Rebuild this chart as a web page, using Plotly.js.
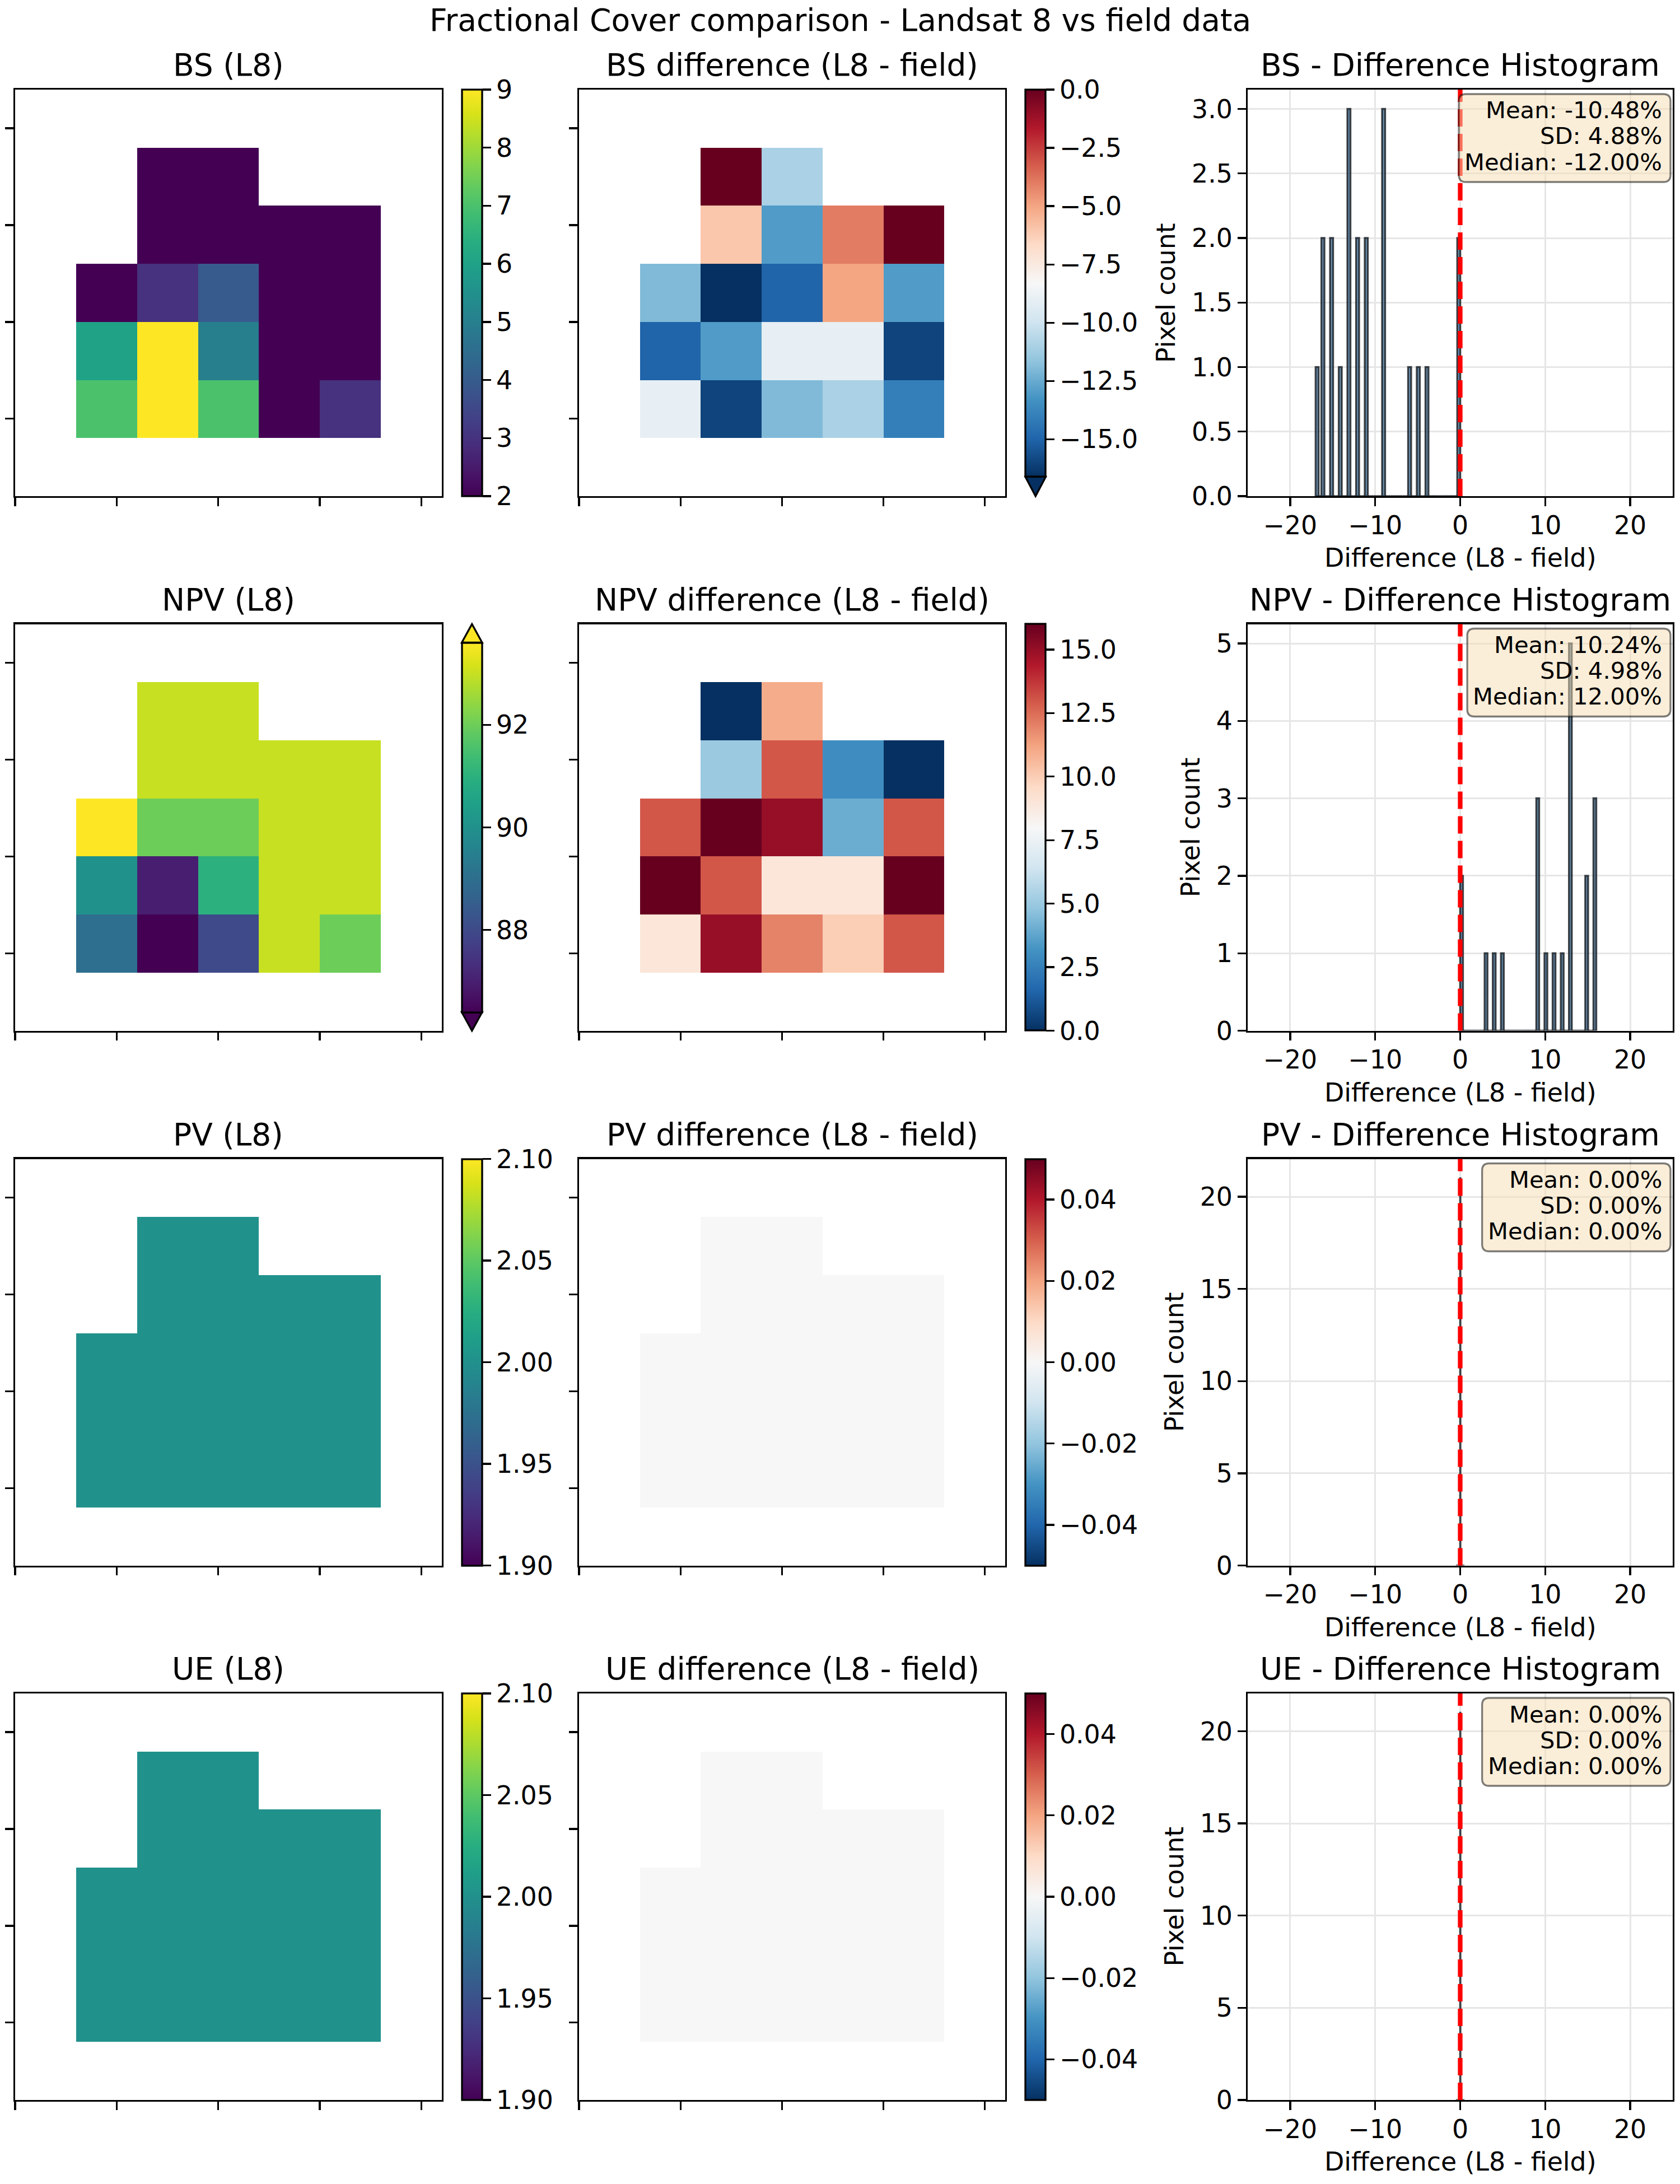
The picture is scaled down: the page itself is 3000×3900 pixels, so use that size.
<!DOCTYPE html>
<html>
<head>
<meta charset="utf-8">
<script src="https://cdn.plot.ly/plotly-3.0.1.min.js"></script>
<style>html,body{margin:0;padding:0;background:#fff}</style>
</head>
<body>
<div id="chart" style="width:3000px;height:3900px"></div>
<script>
// ---------------- DATA ----------------
const N = null;
const components = ['BS', 'NPV', 'PV', 'UE'];
const grid_x = [0, 1, 2, 3, 4, 5, 6];
const grid_y = [0, 1, 2, 3, 4, 5, 6];

const bs_l8 = [
  [N, N, N, N, N, N, N],
  [N, N, 2, 2, N, N, N],
  [N, N, 2, 2, 2, 2, N],
  [N, 2, 3, 4, 2, 2, N],
  [N, 6, 9, 5, 2, 2, N],
  [N, 7, 9, 7, 2, 3, N],
  [N, N, N, N, N, N, N]
];
const bs_diff = [
  [N, N, N, N, N, N, N],
  [N, N, 0, -11, N, N, N],
  [N, N, -6, -13, -4, 0, N],
  [N, -12, -17, -15, -5, -13, N],
  [N, -15, -13, -9, -9, -16, N],
  [N, -9, -16, -12, -11, -14, N],
  [N, N, N, N, N, N, N]
];
const npv_l8 = [
  [N, N, N, N, N, N, N],
  [N, N, 93, 93, N, N, N],
  [N, N, 93, 93, 93, 93, N],
  [N, 94, 92, 92, 93, 93, N],
  [N, 90, 87, 91, 93, 93, N],
  [N, 89, 86, 88, 93, 92, N],
  [N, N, N, N, N, N, N]
];
const npv_diff = [
  [N, N, N, N, N, N, N],
  [N, N, 0, 11, N, N, N],
  [N, N, 5, 13, 3, 0, N],
  [N, 13, 16, 15, 4, 13, N],
  [N, 16, 13, 9, 9, 16, N],
  [N, 9, 15, 12, 10, 13, N],
  [N, N, N, N, N, N, N]
];
const pv_l8 = [
  [N, N, N, N, N, N, N],
  [N, N, 2, 2, N, N, N],
  [N, N, 2, 2, 2, 2, N],
  [N, 2, 2, 2, 2, 2, N],
  [N, 2, 2, 2, 2, 2, N],
  [N, 2, 2, 2, 2, 2, N],
  [N, N, N, N, N, N, N]
];
const pv_diff = [
  [N, N, N, N, N, N, N],
  [N, N, 0, 0, N, N, N],
  [N, N, 0, 0, 0, 0, N],
  [N, 0, 0, 0, 0, 0, N],
  [N, 0, 0, 0, 0, 0, N],
  [N, 0, 0, 0, 0, 0, N],
  [N, N, N, N, N, N, N]
];
const ue_l8 = [
  [N, N, N, N, N, N, N],
  [N, N, 2, 2, N, N, N],
  [N, N, 2, 2, 2, 2, N],
  [N, 2, 2, 2, 2, 2, N],
  [N, 2, 2, 2, 2, 2, N],
  [N, 2, 2, 2, 2, 2, N],
  [N, N, N, N, N, N, N]
];
const ue_diff = [
  [N, N, N, N, N, N, N],
  [N, N, 0, 0, N, N, N],
  [N, N, 0, 0, 0, 0, N],
  [N, 0, 0, 0, 0, 0, N],
  [N, 0, 0, 0, 0, 0, N],
  [N, 0, 0, 0, 0, 0, N],
  [N, N, N, N, N, N, N]
];
const l8_grids = [bs_l8, npv_l8, pv_l8, ue_l8];
const diff_grids = [bs_diff, npv_diff, pv_diff, ue_diff];

// tick labels / tick steps
const hist_xticks = [-20, -10, 0, 10, 20];
const hist_ystep = [0.5, 1, 5, 5];
const cb_l8_ticks = [[2, 3, 4, 5, 6, 7, 8, 9], [88, 90, 92], [1.90, 1.95, 2.00, 2.05, 2.10], [1.90, 1.95, 2.00, 2.05, 2.10]];
const cb_l8_fmt = ['d', 'd', '.2f', '.2f'];
const cb_diff_ticks = [[0, -2.5, -5, -7.5, -10, -12.5, -15], [0, 2.5, 5, 7.5, 10, 12.5, 15], [-0.04, -0.02, 0, 0.02, 0.04], [-0.04, -0.02, 0, 0.02, 0.04]];
const cb_diff_fmt = ['.1f', '.1f', '.2f', '.2f'];
const hist_bins = 50;

// ---------------- LAYOUT GEOMETRY (pixels) ----------------
const W = 3000, HF = 3900;
const fx = p => p / W;
const fy = p => 1 - p / HF;
const rowTop = [160, 1114.5, 2069.5, 3024];
const axH = 726;
const colL = [27, 1034, 2228], colR = [788.5, 1795, 2987];
const cbL = [824.6, 1831], cbW = 36.4;
const FONT = '"DejaVu Sans", Verdana, sans-serif';
const TICK = 45.8, TITLE = 55, LABEL = 45.8, STAT = 41.7;
const LW = 3.3, TL = 14.6;

const viridis_lo = '#440154', viridis_hi = '#fde725';
const rdbu_cols = ['#053061', '#2166ac', '#4393c3', '#92c5de', '#d1e5f0', '#f7f7f7', '#fddbc7', '#f4a582', '#d6604d', '#b2182b', '#67001f'];
const rdbu_r = rdbu_cols.map((c, i) => [i / 10, c]);

// ---------------- HELPERS ----------------
const flat = g => g.flat().filter(v => v !== null);
function pct(arr, p) {
  const s = arr.slice().sort((a, b) => a - b);
  const idx = (s.length - 1) * p / 100;
  const lo = Math.floor(idx), hi = Math.ceil(idx);
  return s[lo] + (s[hi] - s[lo]) * (idx - lo);
}
function histogram(vals, nb) {
  let mn = Math.min(...vals), mx = Math.max(...vals);
  if (mn === mx) { mn -= 0.5; mx += 0.5; }
  const w = (mx - mn) / nb;
  const counts = new Array(nb).fill(0);
  vals.forEach(v => {
    let i = Math.floor((v - mn) / w);
    if (i >= nb) i = nb - 1;
    if (i < 0) i = 0;
    counts[i]++;
  });
  const centers = counts.map((_, i) => mn + (i + 0.5) * w);
  return { centers, counts, w };
}
const mean = a => a.reduce((s, v) => s + v, 0) / a.length;
const std = a => { const m = mean(a); return Math.sqrt(a.reduce((s, v) => s + (v - m) * (v - m), 0) / a.length); };
const median = a => pct(a, 50);
const fmt2 = v => { const s = v.toFixed(2); return s === '-0.00' ? '0.00' : s; };

const canvas = document.createElement('canvas');
const ctx = canvas.getContext('2d');
function textW(s, size) { ctx.font = size + 'px "DejaVu Sans"'; return ctx.measureText(s).width; }

function P(x, y) { return fx(x).toFixed(6) + ',' + fy(y).toFixed(6); }
function roundRect(l, t, r, b, rad) {
  return `M ${P(l + rad, t)} L ${P(r - rad, t)} Q ${P(r, t)} ${P(r, t + rad)} L ${P(r, b - rad)} Q ${P(r, b)} ${P(r - rad, b)} L ${P(l + rad, b)} Q ${P(l, b)} ${P(l, b - rad)} L ${P(l, t + rad)} Q ${P(l, t)} ${P(l + rad, t)} Z`;
}

const traces = [];
const layout = {
  width: W, height: HF,
  margin: { l: 0, r: 0, t: 0, b: 0, pad: 0 },
  paper_bgcolor: '#fff', plot_bgcolor: '#fff',
  showlegend: false,
  font: { family: FONT, color: '#000', size: TICK },
  annotations: [], shapes: []
};

function heatAxes(k, col, r) {
  const id = k === 1 ? '' : String(k);
  layout['xaxis' + id] = {
    domain: [fx(colL[col]), fx(colR[col])], range: [-0.5, 6.5], anchor: 'y' + id,
    showgrid: false, zeroline: false, showline: true, linecolor: '#000', linewidth: LW, mirror: true,
    ticks: 'outside', ticklen: TL, tickwidth: LW, tickcolor: '#000',
    tickvals: [-0.5, 7 / 6, 17 / 6, 4.5, 37 / 6], showticklabels: false, fixedrange: true
  };
  layout['yaxis' + id] = {
    domain: [fy(rowTop[r] + axH), fy(rowTop[r])], range: [6.5, -0.5], anchor: 'x' + id,
    showgrid: false, zeroline: false, showline: true, linecolor: '#000', linewidth: LW, mirror: true,
    ticks: 'outside', ticklen: TL, tickwidth: LW, tickcolor: '#000',
    tickvals: [1 / 6, 11 / 6, 3.5, 31 / 6], showticklabels: false, fixedrange: true
  };
  return id;
}

function addHeat(r, col, grid, cscale, lo, hi, tickvals, tfmt) {
  const k = r * 3 + col + 1;
  const id = heatAxes(k, col, r);
  const vals = flat(grid);
  let vmin = pct(vals, 2), vmax = pct(vals, 98);
  if (vmin === vmax) {
    const e = col === 0 ? 0.1 : 0.05;
    vmin -= e; vmax += e;
  }
  const extLo = Math.min(...vals) < vmin, extHi = Math.max(...vals) > vmax;
  const nExt = (extLo ? 1 : 0) + (extHi ? 1 : 0);
  const body = axH / (1 + 0.05 * nExt);
  const ext = body * 0.05;
  const top = rowTop[r] + (extHi ? ext : 0);
  const bottom = top + body;
  traces.push({
    type: 'heatmap', z: grid, x: grid_x, y: grid_y,
    xaxis: 'x' + id, yaxis: 'y' + id,
    colorscale: cscale, zmin: vmin, zmax: vmax, zauto: false, zsmooth: false,
    hoverinfo: 'skip', showscale: true,
    colorbar: {
      x: fx(cbL[col]), xanchor: 'left', xref: 'paper',
      y: fy(top), yanchor: 'top', yref: 'paper',
      len: body, lenmode: 'pixels', thickness: cbW, thicknessmode: 'pixels',
      xpad: 0, ypad: 0, outlinewidth: LW, outlinecolor: '#000',
      ticks: 'outside', ticklen: TL, tickwidth: LW, tickcolor: '#000',
      tickvals: tickvals, tickformat: tfmt,
      tickfont: { family: FONT, size: TICK, color: '#000' }
    }
  });
  const l = cbL[col], rr = cbL[col] + cbW, c = l + cbW / 2;
  if (extLo) {
    layout.shapes.push({
      type: 'path', xref: 'paper', yref: 'paper', layer: 'above',
      path: `M ${P(l, bottom)} L ${P(c, bottom + ext)} L ${P(rr, bottom)} Z`,
      fillcolor: lo, line: { color: '#000', width: LW }
    });
  }
  if (extHi) {
    layout.shapes.push({
      type: 'path', xref: 'paper', yref: 'paper', layer: 'above',
      path: `M ${P(l, top)} L ${P(c, top - ext)} L ${P(rr, top)} Z`,
      fillcolor: hi, line: { color: '#000', width: LW }
    });
  }
}

function addTitle(text, col, r) {
  layout.annotations.push({
    text: text, xref: 'paper', yref: 'paper',
    x: fx((colL[col] + colR[col]) / 2), y: fy(rowTop[r] - 44),
    xanchor: 'center', yanchor: 'middle', showarrow: false,
    font: { family: FONT, size: TITLE, color: '#000' }
  });
}

function addHist(r, comp, diffGrid) {
  const k = r * 3 + 3;
  const id = String(k);
  const vals = flat(diffGrid);
  const h = histogram(vals, hist_bins);
  const ymax = Math.max(...h.counts) * 1.05;
  const step = hist_ystep[r];
  const yt = [];
  for (let v = 0; v <= ymax + 1e-9; v += step) yt.push(+v.toFixed(3));
  const ytxt = yt.map(v => step < 1 ? v.toFixed(1) : String(v));
  traces.push({
    type: 'bar', x: h.centers, y: h.counts, width: h.w,
    xaxis: 'x' + id, yaxis: 'y' + id, hoverinfo: 'skip',
    marker: { color: 'rgba(70,130,180,0.7)', line: { color: 'rgba(20,25,30,0.8)', width: 3.6 } }
  });
  layout['xaxis' + id] = {
    domain: [fx(colL[2]), fx(colR[2])], range: [-25, 25], anchor: 'y' + id,
    showgrid: true, gridcolor: '#e6e6e6', gridwidth: 3, zeroline: false,
    showline: true, linecolor: '#000', linewidth: LW, mirror: true,
    ticks: 'outside', ticklen: TL, tickwidth: LW, tickcolor: '#000', ticklabelstandoff: -5,
    tickvals: hist_xticks, tickfont: { family: FONT, size: TICK, color: '#000' }, fixedrange: true
  };
  layout['yaxis' + id] = {
    domain: [fy(rowTop[r] + axH), fy(rowTop[r])], range: [0, ymax], anchor: 'x' + id,
    showgrid: true, gridcolor: '#e6e6e6', gridwidth: 3, zeroline: false,
    showline: true, linecolor: '#000', linewidth: LW, mirror: true,
    ticks: 'outside', ticklen: TL, tickwidth: LW, tickcolor: '#000',
    tickvals: yt, ticktext: ytxt, tickfont: { family: FONT, size: TICK, color: '#000' }, fixedrange: true
  };
  // zero line
  layout.shapes.push({
    type: 'line', xref: 'x' + id, yref: 'y' + id + ' domain', x0: 0, x1: 0, y0: 0, y1: 1,
    line: { color: 'red', width: 8.3, dash: '31px,13px' }, layer: 'above'
  });
  // axis labels
  layout.annotations.push({
    text: 'Difference (L8 - field)', xref: 'paper', yref: 'paper',
    x: fx((colL[2] + colR[2]) / 2), y: fy(rowTop[r] + axH + 110),
    xanchor: 'center', yanchor: 'middle', showarrow: false,
    font: { family: FONT, size: LABEL, color: '#000' }
  });
  const tw = Math.max(...ytxt.map(s => textW(s, TICK)));
  const ylx = colL[2] - TL - 14.6 - tw - 16.7 - 27.3;
  layout.annotations.push({
    text: 'Pixel count', xref: 'paper', yref: 'paper', textangle: -90,
    x: fx(ylx), y: fy(rowTop[r] + axH / 2),
    xanchor: 'center', yanchor: 'middle', showarrow: false,
    font: { family: FONT, size: LABEL, color: '#000' }
  });
  // stats box
  const lines = [
    'Mean: ' + fmt2(mean(vals)) + '%',
    'SD: ' + fmt2(std(vals)) + '%',
    'Median: ' + fmt2(median(vals)) + '%'
  ];
  const pad = 12.5;
  const wmax = Math.max(...lines.map(s => textW(s, STAT)));
  const bR = colR[2] - 4, bT = rowTop[r] + 8, bB = bT + 157, bL = bR - wmax - 2 * pad;
  layout.shapes.push({
    type: 'path', xref: 'paper', yref: 'paper', layer: 'above',
    path: roundRect(bL, bT, bR, bB, pad),
    fillcolor: 'rgba(245,222,179,0.5)', line: { color: 'rgba(0,0,0,0.5)', width: 3.3 }
  });
  const offs = [29, 75, 121];
  lines.forEach((s, i) => {
    layout.annotations.push({
      text: s, xref: 'paper', yref: 'paper',
      x: fx(bR - pad - 1), y: fy(bT + offs[i]),
      xanchor: 'right', yanchor: 'middle', showarrow: false,
      font: { family: FONT, size: STAT, color: '#000' }
    });
  });
  addTitle(comp + ' - Difference Histogram', 2, r);
}

components.forEach((comp, r) => {
  addHeat(r, 0, l8_grids[r], 'Viridis', viridis_lo, viridis_hi, cb_l8_ticks[r], cb_l8_fmt[r]);
  addTitle(comp + ' (L8)', 0, r);
  addHeat(r, 1, diff_grids[r], rdbu_r, rdbu_cols[0], rdbu_cols[10], cb_diff_ticks[r], cb_diff_fmt[r]);
  addTitle(comp + ' difference (L8 - field)', 1, r);
  addHist(r, comp, diff_grids[r]);
});

layout.annotations.push({
  text: 'Fractional Cover comparison - Landsat 8 vs field data', xref: 'paper', yref: 'paper',
  x: 0.5, y: fy(36), xanchor: 'center', yanchor: 'middle', showarrow: false,
  font: { family: FONT, size: TITLE, color: '#000' }
});

Plotly.newPlot('chart', traces, layout, { staticPlot: true, displayModeBar: false });
</script>
</body>
</html>
